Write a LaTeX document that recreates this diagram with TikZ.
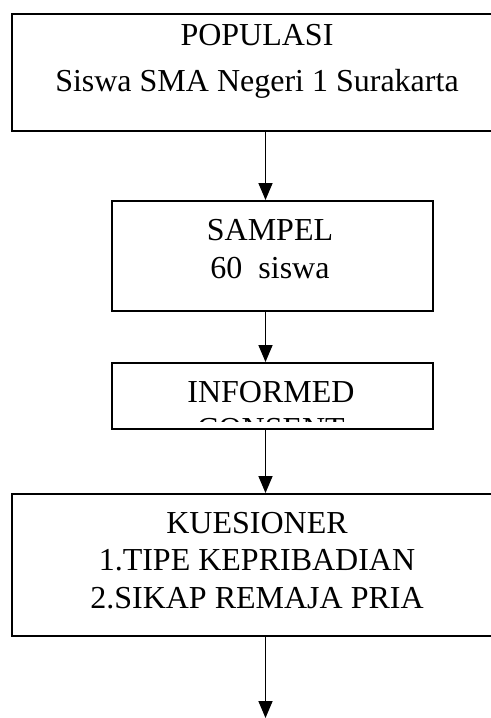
\documentclass[tikz,border=0pt]{standalone}
\usepackage{fontspec}
\setmainfont{Liberation Serif}
\usetikzlibrary{arrows.meta,positioning}

\begin{document}
\begin{tikzpicture}[->,>={Triangle[width=7pt,length=8.5pt]},x=0.5pt,y=-0.5pt,
    line width=0.85pt,
    box/.style={draw=black,line width=1pt,rectangle,inner sep=0pt,anchor=north west},
    txt/.style={align=center,inner sep=0pt,anchor=base,font=\fontsize{16}{#1}\selectfont},
    txt/.default=19pt]
  \clip (0,0) rectangle (491,718);
  \coordinate (spine) at (265.5,0);
  \coordinate (end) at (265.5,718);
  \node[box,minimum width=246pt,minimum height=58.5pt] (pop) at (11,13) {};
  \node[box,minimum width=160.5pt,minimum height=55pt] (sampel) at (111,200) {};
  \node[box,minimum width=160.5pt,minimum height=33pt] (consent) at (111,362) {};
  \node[box,minimum width=246pt,minimum height=71pt] (kues) at (11,493) {};

  \node[txt=23pt] (popTxt) at (257,91) {POPULASI\\Siswa SMA Negeri 1 Surakarta};
  \node[txt] (sampelTxt) at (270,278) {SAMPEL\\60\ \ siswa};
  \begin{scope}
    \clip (111,362) rectangle (432,421);
    \node[txt=18.5pt] (consentTxt) at (271,439) {INFORMED\\CONSENT};
  \end{scope}
  \node[txt=18.75pt] (kuesTxt) at (257,608) {KUESIONER\\1.TIPE KEPRIBADIAN\\2.SIKAP REMAJA PRIA};

  \draw (pop.south -| spine) -- (sampel.north -| spine);
  \draw (sampel.south -| spine) -- (consent.north -| spine);
  \draw (consent.south -| spine) -- (kues.north -| spine);
  \draw (kues.south -| spine) -- (end);
\end{tikzpicture}
\end{document}
